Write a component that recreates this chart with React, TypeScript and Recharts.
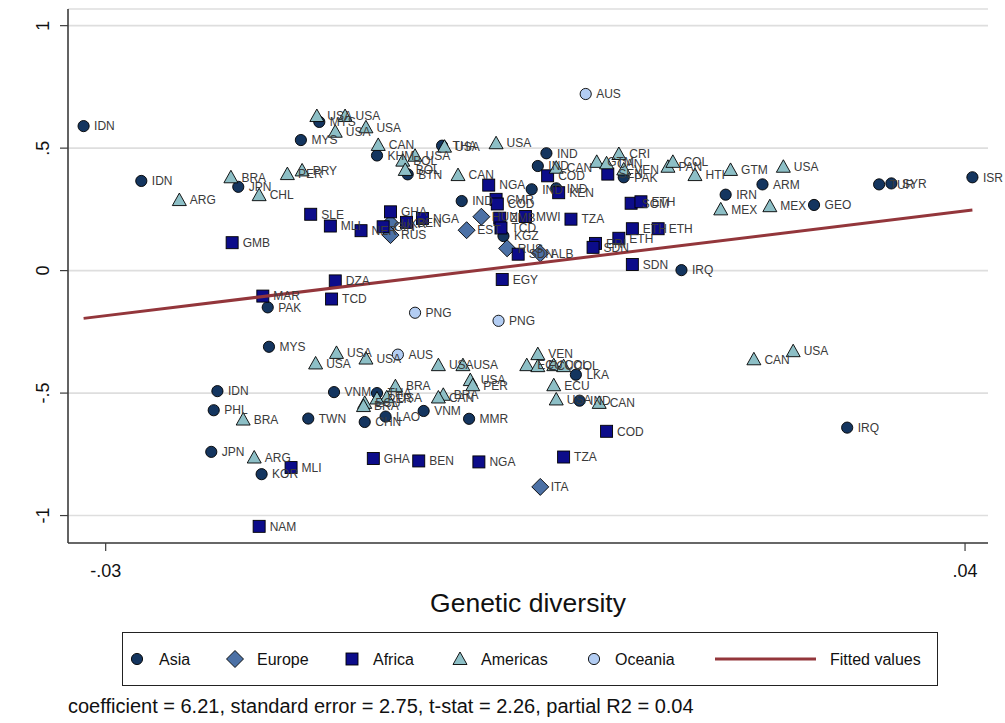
import { ScatterChart, Scatter, XAxis, YAxis, CartesianGrid, LabelList, Label } from 'recharts';

type Pt = [string, number, number];

// [country, genetic diversity, residual]
const asia: Pt[] = [
  ['IDN', -0.0318, 0.590], ['IDN', -0.0271, 0.366], ['JPN', -0.0192, 0.342], ['MYS', -0.0141, 0.533],
  ['MYS', -0.0126, 0.607], ['KHM', -0.0079, 0.470], ['BTN', -0.0054, 0.393], ['THA', -0.0026, 0.510],
  ['IND', 0.0059, 0.479], ['IND', 0.0052, 0.427], ['IND', 0.0047, 0.332], ['IND', 0.0067, 0.336],
  ['IND', -0.0010, 0.284], ['KGZ', 0.0024, 0.141], ['PAK', 0.0122, 0.381], ['IRN', 0.0205, 0.310],
  ['ARM', 0.0235, 0.352], ['GEO', 0.0277, 0.268], ['TUR', 0.0330, 0.352], ['SYR', 0.0340, 0.356],
  ['ISR', 0.0406, 0.381], ['IRQ', 0.0169, 0.002], ['PAK', -0.0168, -0.150], ['MYS', -0.0167, -0.311],
  ['IDN', -0.0209, -0.492], ['PHL', -0.0212, -0.570], ['TWN', -0.0135, -0.604], ['VNM', -0.0114, -0.496],
  ['THA', -0.0079, -0.500], ['CHN', -0.0089, -0.618], ['LAO', -0.0072, -0.596], ['VNM', -0.0041, -0.573],
  ['MMR', -0.0004, -0.605], ['LKA', 0.0083, -0.425], ['IND', 0.0086, -0.531], ['JPN', -0.0214, -0.740],
  ['KOR', -0.0173, -0.831], ['IRQ', 0.0304, -0.641],
];

const europe: Pt[] = [
  ['UKR', -0.0068, 0.193], ['RUS', -0.0068, 0.145], ['HUN', 0.0006, 0.220], ['EST', -0.0006, 0.165],
  ['RUS', 0.0027, 0.091], ['ALB', 0.0054, 0.070], ['ITA', 0.0054, -0.883],
];

const africa: Pt[] = [
  ['SLE', -0.0133, 0.230], ['MLI', -0.0117, 0.182], ['NER', -0.0092, 0.163], ['GMB', -0.0197, 0.114],
  ['GHA', -0.0068, 0.240], ['GIN', -0.0074, 0.179], ['BEN', -0.0055, 0.197], ['NGA', -0.0042, 0.213],
  ['NGA', 0.0012, 0.349], ['COD', 0.0060, 0.387], ['KEN', 0.0069, 0.318], ['CMR', 0.0018, 0.291],
  ['COD', 0.0019, 0.272], ['ZMB', 0.0021, 0.214], ['MWI', 0.0042, 0.221], ['TCD', 0.0022, 0.174],
  ['SDN', 0.0036, 0.067], ['TZA', 0.0079, 0.210], ['SEN', 0.0109, 0.394], ['SOM', 0.0128, 0.275],
  ['ETH', 0.0136, 0.281], ['ETH', 0.0129, 0.171], ['ETH', 0.0150, 0.171], ['ETH', 0.0118, 0.132],
  ['ERI', 0.0099, 0.111], ['SDN', 0.0097, 0.095], ['SDN', 0.0129, 0.025], ['EGY', 0.0023, -0.036],
  ['DZA', -0.0113, -0.042], ['MAR', -0.0172, -0.104], ['TCD', -0.0116, -0.116], ['COD', 0.0108, -0.656],
  ['TZA', 0.0073, -0.761], ['GHA', -0.0082, -0.767], ['BEN', -0.0045, -0.777], ['NGA', 0.0004, -0.781],
  ['MLI', -0.0149, -0.804], ['NAM', -0.0175, -1.044],
];

const americas: Pt[] = [
  ['USA', -0.0128, 0.631], ['USA', -0.0105, 0.631], ['USA', -0.0113, 0.567], ['USA', -0.0088, 0.585],
  ['CAN', -0.0078, 0.513], ['USA', -0.0048, 0.469], ['BOL', -0.0058, 0.449], ['BOL', -0.0056, 0.411],
  ['USA', -0.0024, 0.506], ['USA', 0.0018, 0.520], ['CAN', -0.0013, 0.390], ['CAN', 0.0067, 0.420],
  ['BRA', -0.0198, 0.381], ['CHL', -0.0175, 0.308], ['ARG', -0.0240, 0.288], ['PER', -0.0152, 0.394],
  ['PRY', -0.0140, 0.409], ['GTM', 0.0100, 0.444], ['CAN', 0.0108, 0.438], ['CRI', 0.0118, 0.476],
  ['VEN', 0.0122, 0.413], ['PAN', 0.0158, 0.424], ['COL', 0.0162, 0.444], ['HTI', 0.0180, 0.390],
  ['GTM', 0.0209, 0.411], ['USA', 0.0252, 0.424], ['MEX', 0.0201, 0.250], ['MEX', 0.0241, 0.263],
  ['CAN', 0.0228, -0.362], ['USA', 0.0260, -0.329], ['USA', -0.0112, -0.336], ['USA', -0.0129, -0.379],
  ['USA', -0.0088, -0.359], ['USA', -0.0029, -0.386], ['USA', -0.0009, -0.386], ['VEN', 0.0052, -0.341],
  ['ECU', 0.0043, -0.386], ['ECU', 0.0052, -0.390], ['COL', 0.0065, -0.386], ['COL', 0.0073, -0.390],
  ['USA', -0.0003, -0.447], ['PER', -0.0001, -0.468], ['BRA', -0.0064, -0.472], ['USA', -0.0071, -0.517],
  ['PER', -0.0079, -0.522], ['ECU', -0.0089, -0.540], ['BRA', -0.0090, -0.553], ['BRA', -0.0025, -0.507],
  ['CAN', -0.0029, -0.518], ['ECU', 0.0065, -0.468], ['USA', 0.0067, -0.526], ['CAN', 0.0102, -0.540],
  ['BRA', -0.0188, -0.608], ['ARG', -0.0179, -0.763],
];

const oceania: Pt[] = [
  ['AUS', 0.0091, 0.721], ['PNG', -0.0048, -0.172], ['PNG', 0.0020, -0.205], ['AUS', -0.0062, -0.343],
];

const fittedX = [-0.0318, 0.0406];
const fittedY = [-0.195, 0.247];

const xTicks = [-0.03, 0.04];
const yTicks = [-1, -0.5, 0, 0.5, 1];

const note = 'coefficient = 6.21, standard error = 2.75, t-stat = 2.26, partial R2 = 0.04';

const FONT = '"Liberation Sans", Arial, sans-serif';
const C_ASIA = '#14355f';
const C_EUROPE = '#4c71a6';
const C_AFRICA = '#0c0c8a';
const C_AMERICAS = '#8dbfc6';
const C_OCEANIA = '#b3cdf3';
const C_FIT = '#93363b';

const toRows = (pts: Pt[]) => pts.map(([name, x, y]) => ({ name, x, y }));
const fitted = fittedX.map((x, i) => ({ x, y: fittedY[i] }));

const fmt = (v: number) => String(v).replace('0.', '.');

const circle = (fill: string) => (p: any) => (
  <circle cx={p.cx} cy={p.cy} r={5.6} fill={fill} stroke="#000" strokeWidth={0.9} />
);
const square = (fill: string) => (p: any) => (
  <rect x={p.cx - 6} y={p.cy - 6} width={12} height={12} fill={fill} stroke="#000" strokeWidth={0.9} />
);
const diamond = (fill: string) => (p: any) => (
  <polygon
    points={`${p.cx},${p.cy - 8.5} ${p.cx + 8.5},${p.cy} ${p.cx},${p.cy + 8.5} ${p.cx - 8.5},${p.cy}`}
    fill={fill} stroke="#000" strokeWidth={0.9}
  />
);
const triangle = (fill: string) => (p: any) => (
  <polygon
    points={`${p.cx},${p.cy - 7} ${p.cx + 7},${p.cy + 5.5} ${p.cx - 7},${p.cy + 5.5}`}
    fill={fill} stroke="#000" strokeWidth={0.9}
  />
);

const YTick = (p: any) => (
  <g transform={`translate(${p.x - 11},${p.y})`}>
    <text transform="rotate(-90)" textAnchor="middle" fontSize={18} fill="#111" fontFamily={FONT}>
      {fmt(p.payload.value)}
    </text>
  </g>
);

const labels = (
  <LabelList dataKey="name" position="right" offset={6} fontSize={12} fill="#3a3a3a" fontFamily={FONT} />
);

const Legend = () => (
  <svg width={1005} height={723} style={{ position: 'absolute', left: 0, top: 0, pointerEvents: 'none' }}>
    <rect x={122.5} y={632.5} width={815} height={53} fill="none" stroke="#222" strokeWidth={1} />
    <g fontFamily={FONT} fontSize={16} fill="#111">
      {circle(C_ASIA)({ cx: 137, cy: 659 })}
      <text x={159} y={659} dominantBaseline="central">Asia</text>
      {diamond(C_EUROPE)({ cx: 235, cy: 659 })}
      <text x={257} y={659} dominantBaseline="central">Europe</text>
      {square(C_AFRICA)({ cx: 352, cy: 659 })}
      <text x={373} y={659} dominantBaseline="central">Africa</text>
      {triangle(C_AMERICAS)({ cx: 460, cy: 659 })}
      <text x={481} y={659} dominantBaseline="central">Americas</text>
      {circle(C_OCEANIA)({ cx: 594, cy: 659 })}
      <text x={615} y={659} dominantBaseline="central">Oceania</text>
      <line x1={715} x2={816} y1={659} y2={659} stroke={C_FIT} strokeWidth={3} />
      <text x={830} y={659} dominantBaseline="central">Fitted values</text>
    </g>
    <text x={68} y={706} dominantBaseline="central" fontFamily={FONT} fontSize={20} fill="#111">{note}</text>
  </svg>
);

export default function App() {
  return (
    <div style={{ position: 'absolute', left: 0, top: 0, width: 1005, height: 723, background: '#fff' }}>
      <ScatterChart width={1005} height={723} margin={{ top: 9, right: 17, left: 0, bottom: 100 }} style={{ fontFamily: FONT }}>
        <CartesianGrid vertical={false} stroke="#dedede" strokeWidth={1.6} />
        <XAxis
          type="number" dataKey="x" domain={[-0.03307, 0.04187]} allowDataOverflow ticks={xTicks}
          tickFormatter={fmt} height={80} tickSize={8} tickMargin={13}
          axisLine={{ stroke: '#3c3c3c', strokeWidth: 1.6 }} tickLine={{ stroke: '#3c3c3c', strokeWidth: 1.2 }}
          tick={{ fill: '#111', fontSize: 18, fontFamily: FONT }}
        >
          <Label value="Genetic diversity" position="insideBottom" offset={11} fontSize={26.5} fill="#111" fontFamily={FONT} />
        </XAxis>
        <YAxis
          type="number" dataKey="y" domain={[-1.112, 1.068]} allowDataOverflow ticks={yTicks}
          width={68} tickSize={8} tickMargin={0} tick={<YTick />}
          axisLine={{ stroke: '#3c3c3c', strokeWidth: 1.6 }} tickLine={{ stroke: '#3c3c3c', strokeWidth: 1.2 }}
        />
        <Scatter data={toRows(asia)} shape={circle(C_ASIA)} isAnimationActive={false}>{labels}</Scatter>
        <Scatter data={toRows(europe)} shape={diamond(C_EUROPE)} isAnimationActive={false}>{labels}</Scatter>
        <Scatter data={toRows(africa)} shape={square(C_AFRICA)} isAnimationActive={false}>{labels}</Scatter>
        <Scatter data={toRows(americas)} shape={triangle(C_AMERICAS)} isAnimationActive={false}>{labels}</Scatter>
        <Scatter data={toRows(oceania)} shape={circle(C_OCEANIA)} isAnimationActive={false}>{labels}</Scatter>
        <Scatter data={fitted} shape={() => <g />} line={{ stroke: C_FIT, strokeWidth: 3 }} isAnimationActive={false} />
      </ScatterChart>
      <Legend />
    </div>
  );
}
